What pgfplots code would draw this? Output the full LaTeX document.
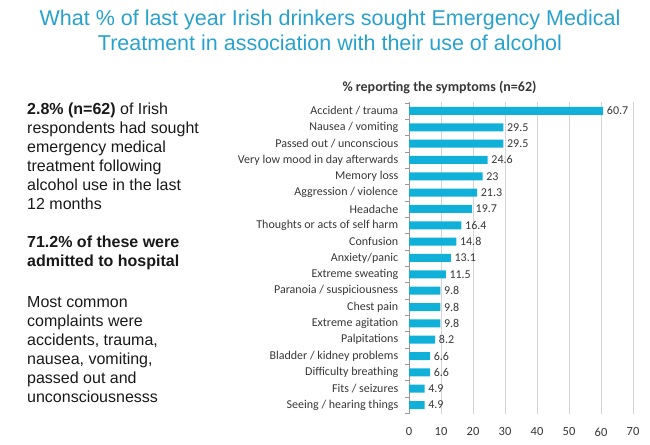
\documentclass[border=0pt]{standalone}
\usepackage{pgfplots}
\pgfplotsset{compat=1.18}
\usepackage{fontspec}
\setmainfont{Liberation Sans}
\newfontfamily\carlito{Carlito}
\definecolor{titleblue}{RGB}{40,162,205}
\definecolor{barblue}{RGB}{16,176,216}
\definecolor{labgray}{RGB}{55,55,55}
\definecolor{txtblack}{RGB}{25,25,25}
\begin{document}
\begin{tikzpicture}
\path[use as bounding box] (0,0) rectangle (650bp,445bp);
% main title
\node[anchor=base, font=\fontsize{21.5bp}{25bp}\selectfont, text=titleblue, inner sep=0pt] at (330bp,419bp) {What \% of last year Irish drinkers sought Emergency Medical};
\node[anchor=base, font=\fontsize{21.5bp}{25bp}\selectfont, text=titleblue, inner sep=0pt] at (330bp,394bp) {Treatment in association with their use of alcohol};
% left text
\begin{scope}[every node/.style={anchor=base west, inner sep=0pt, font=\fontsize{16bp}{19bp}\selectfont, text=txtblack}]
\node at (27bp,330bp) {\bfseries 2.8\% (n=62)\mdseries{} of Irish};
\node at (27bp,311bp) {respondents had sought};
\node at (27bp,292bp) {emergency medical};
\node at (27bp,273bp) {treatment following};
\node at (27bp,254bp) {alcohol use in the last};
\node at (27bp,235bp) {12 months};
\node at (27bp,197bp) {\bfseries 71.2\% of these were};
\node at (27bp,178bp) {\bfseries admitted to hospital};
\node at (27bp,137bp) {Most common};
\node at (27bp,118bp) {complaints were};
\node at (27bp,99bp) {accidents, trauma,};
\node at (27bp,80bp) {nausea, vomiting,};
\node at (27bp,61bp) {passed out and};
\node at (27bp,42bp) {unconsciousnesss};
\end{scope}
% chart title
\node[anchor=base, inner sep=0pt, font=\carlito\bfseries\fontsize{14bp}{16bp}\selectfont, text=labgray] at (439.5bp,353bp) {\% reporting the symptoms (n=62)};
\begin{axis}[
  at={(409bp,31bp)}, anchor=south west,
  scale only axis, width=224bp, height=312bp,
  xmin=0, xmax=70, ymin=-0.55, ymax=18.55,
  xbar, bar width=8bp,
  axis x line*=bottom, x axis line style={draw=none},
  axis y line*=left, y axis line style={draw=black!40},
  xtick={0,10,...,70}, xtick style={draw=none},
  xmajorgrids, grid style={black!17},
  ytick={0,...,18},
  yticklabels={Seeing / hearing things, Fits / seizures, Difficulty breathing, Bladder / kidney problems, Palpitations, Extreme agitation, Chest pain, Paranoia / suspiciousness, Extreme sweating, Anxiety/panic, Confusion, Thoughts or acts of self harm, Headache, Aggression / violence, Memory loss, Very low mood in day afterwards, Passed out / unconscious, Nausea / vomiting, Accident / trauma},
  major y tick style={draw=none},
  minor ytick={-0.5,0.5,...,18.5},
  minor y tick style={draw=black!40},
  tick align=outside, minor tick length=4bp,
  /pgf/number format/assume math mode=true,
  yticklabel style={font=\carlito\fontsize{12bp}{14bp}\selectfont, text=labgray, xshift=-3bp},
  xticklabel style={font=\carlito\fontsize{12.5bp}{14bp}\selectfont, text=labgray, yshift=-6bp},
  nodes near coords, point meta=explicit symbolic,
  nodes near coords style={font=\carlito\fontsize{12bp}{13bp}\selectfont, text=labgray, anchor=west, inner sep=3.5bp},
  clip=false,
]
\addplot[fill=barblue, draw=none] coordinates {
(4.9,0) [4.9]
(4.9,1) [4.9]
(6.6,2) [6.6]
(6.6,3) [6.6]
(8.2,4) [8.2]
(9.8,5) [9.8]
(9.8,6) [9.8]
(9.8,7) [9.8]
(11.5,8) [11.5]
(13.1,9) [13.1]
(14.8,10) [14.8]
(16.4,11) [16.4]
(19.7,12) [19.7]
(21.3,13) [21.3]
(23,14) [23]
(24.6,15) [24.6]
(29.5,16) [29.5]
(29.5,17) [29.5]
(60.7,18) [60.7]
};
\end{axis}
\end{tikzpicture}
\end{document}
